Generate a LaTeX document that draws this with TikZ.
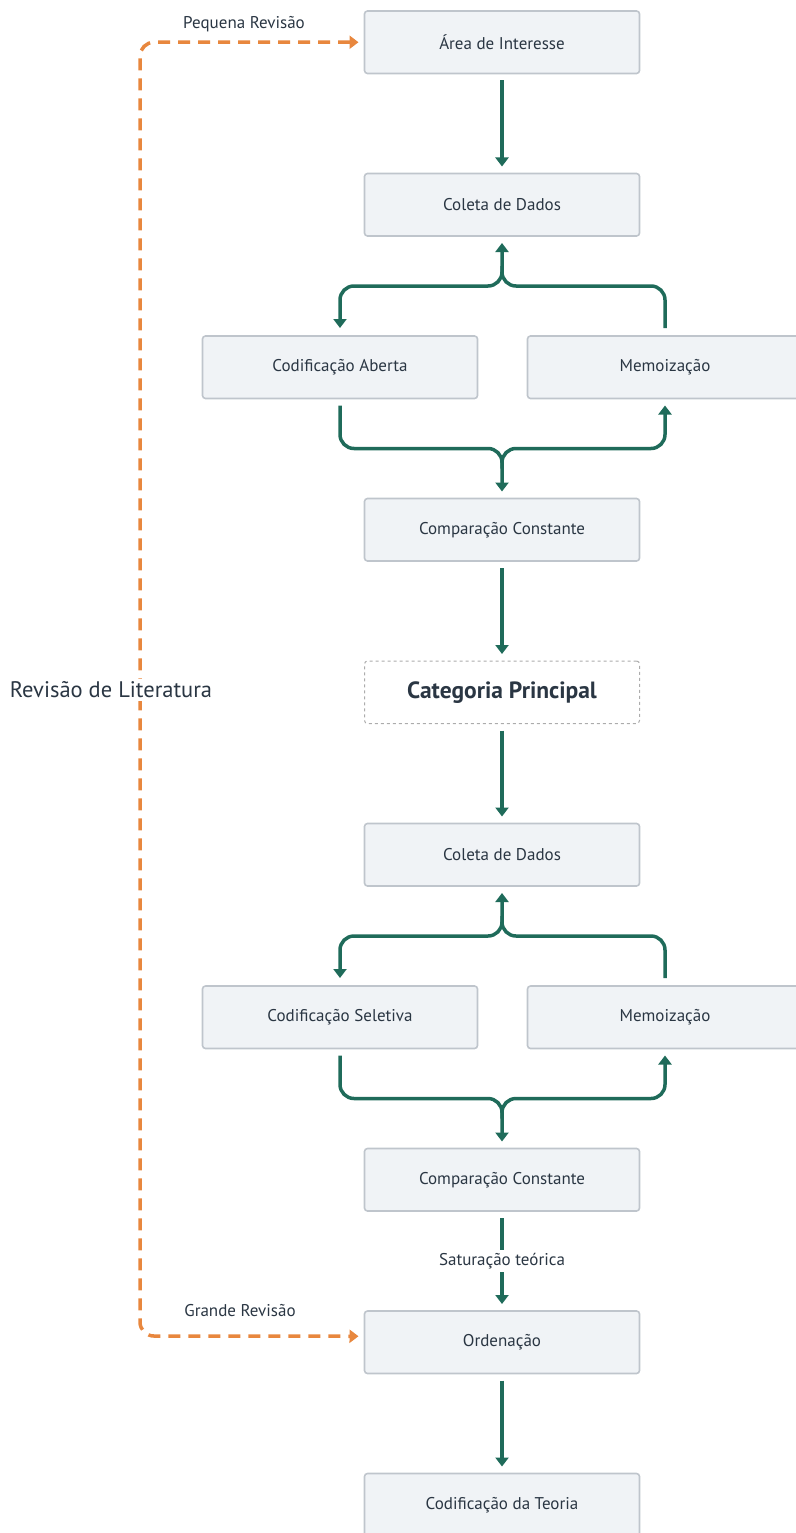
\documentclass[tikz,border=0pt]{standalone}
\usepackage{fontspec}
\setmainfont{PT Sans}
\usetikzlibrary{positioning,arrows.meta}

\definecolor{boxfill}{HTML}{F0F3F6}
\definecolor{boxline}{HTML}{BFC5CC}
\definecolor{flowgreen}{HTML}{1F6B5A}
\definecolor{revorange}{HTML}{E8873E}
\definecolor{ink}{HTML}{2A3643}

\begin{document}
\begin{tikzpicture}[font=\fontsize{17}{20}\selectfont, text=ink,
  node distance=100pt,
  box/.style={draw=boxline, fill=boxfill, line width=1.6pt, rounded corners=3pt,
    minimum width=275pt, minimum height=62.5pt, inner sep=0pt, outer sep=0pt},
  core/.style={box, draw=gray!65, fill=white, dashed, line width=1pt,
    font=\fontsize{23.5}{27}\selectfont\bfseries},
  flow/.style={draw=flowgreen, line width=3.5pt, rounded corners=14pt,
    -{Triangle[width=13pt,length=9pt]}},
  review/.style={draw=revorange, line width=3.5pt, rounded corners=14pt,
    dash pattern=on 12pt off 8pt,
    {Triangle[width=13pt,length=9pt]}-{Triangle[width=13pt,length=9pt]}},
  lbl/.style={fill=white, inner sep=3pt}]
  \useasboundingbox (0,0) rectangle (795pt,-1533pt);

  % first round
  \node[box] (area) at (502pt,-42.25pt) {Área de Interesse};
  \node[box, below=of area] (coleta1) {Coleta de Dados};
  \node[box, below=of coleta1, xshift=-162pt] (codA) {Codificação Aberta};
  \node[box, right=50pt of codA] (mem1) {Memoização};
  \path (codA.south -| coleta1.south) coordinate (r1);
  \node[box, below=of r1] (comp1) {Comparação Constante};
  \coordinate[below=50pt of coleta1] (j1);
  \coordinate[below=50pt of r1] (j2);

  % main category
  \node[core, below=of comp1] (cat) {Categoria Principal};

  % second round
  \node[box, below=of cat] (coleta2) {Coleta de Dados};
  \node[box, below=of coleta2, xshift=-162pt] (codS) {Codificação Seletiva};
  \node[box, right=50pt of codS] (mem2) {Memoização};
  \path (codS.south -| coleta2.south) coordinate (r2);
  \node[box, below=of r2] (comp2) {Comparação Constante};
  \coordinate[below=50pt of coleta2] (j3);
  \coordinate[below=50pt of r2] (j4);
  \node[box, below=of comp2] (ord) {Ordenação};
  \node[box, below=of ord] (teoria) {Codificação da Teoria};

  % connectors
  \draw[flow] ([yshift=-7pt]area.south) -- ([yshift=7pt]coleta1.north);
  \draw[flow] ([yshift=8pt]mem1.north) |- (j1) -- ([yshift=-7pt]coleta1.south);
  \draw[flow] ([yshift=20pt]j1) -- (j1) -| ([yshift=8pt]codA.north);
  \draw[flow] ([yshift=-7pt]codA.south) |- (j2) -- ([yshift=7pt]comp1.north);
  \draw[flow] ([yshift=-20pt]j2) -- (j2) -| ([yshift=-7pt]mem1.south);
  \draw[flow] ([yshift=-7pt]comp1.south) -- ([yshift=7pt]cat.north);
  \draw[flow] ([yshift=-7pt]cat.south) -- ([yshift=7pt]coleta2.north);
  \draw[flow] ([yshift=8pt]mem2.north) |- (j3) -- ([yshift=-7pt]coleta2.south);
  \draw[flow] ([yshift=20pt]j3) -- (j3) -| ([yshift=8pt]codS.north);
  \draw[flow] ([yshift=-7pt]codS.south) |- (j4) -- ([yshift=7pt]comp2.north);
  \draw[flow] ([yshift=-20pt]j4) -- (j4) -| ([yshift=-7pt]mem2.south);
  \draw[flow] ([yshift=-7pt]comp2.south) -- node[lbl] (sat) {Saturação teórica} ([yshift=7pt]ord.north);
  \draw[flow] ([yshift=-7pt]ord.south) -- ([yshift=7pt]teoria.north);

  % literature review loop
  \coordinate (bend) at (140pt,-1336pt);
  \draw[review] ([xshift=-6pt]area.west) -| (bend) -- ([xshift=-6pt,yshift=6pt]ord.west);
  \node (peq) at (244pt,-24pt) {Pequena Revisão};
  \node (gra) at (240pt,-1311pt) {Grande Revisão};
  \node[lbl, font=\fontsize{22.5}{26}\selectfont] (lit) at (111pt,-690pt) {Revisão de Literatura};
\end{tikzpicture}
\end{document}
